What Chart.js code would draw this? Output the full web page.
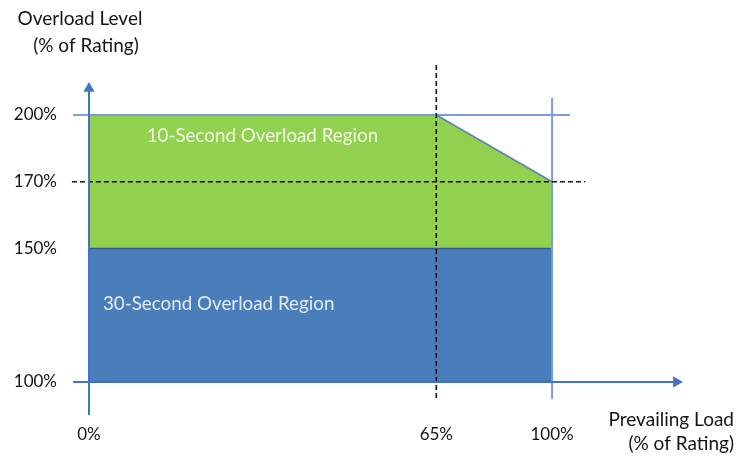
<!DOCTYPE html>
<html>
<head>
<meta charset="utf-8">
<script src="https://cdn.jsdelivr.net/npm/chart.js@4/dist/chart.umd.min.js"></script>
<style>
  html, body { margin: 0; padding: 0; background: #ffffff; }
  #wrap { position: relative; width: 738px; height: 457px; }
</style>
</head>
<body>
<div id="wrap"><canvas id="c" width="738" height="457"></canvas></div>
<script>
// ---------- data ----------
const xTickValues = [0, 65, 100];            // Prevailing load (% of rating)
const yTickValues = [100, 150, 170, 200];    // Overload level (% of rating)

// 30-second region (closed polygon)
const region30X = [0, 100, 100, 0, 0];
const region30Y = [100, 100, 150, 150, 100];
// 10-second region (closed polygon)
const region10X = [0, 0, 65, 100, 100, 0];
const region10Y = [150, 200, 200, 170, 150, 150];
// sloped edge of the 10-second region
const slopeX = [65, 100];
const slopeY = [200, 170];

// reference lines
const limit200X = [-3.0, 105.4];  const limit200Y = [200, 200];
const limit100X = [100, 100];     const limit100Y = [93.6, 207.7];
const dash65X = [65, 65];         const dash65Y = [94, 222.4];
const dash170X = [-3.2, 110];     const dash170Y = [170, 170];

// axes (with arrow heads)
const yAxisX = [0, 0];            const yAxisY = [87.6, 211.9];
const xAxisX = [-3.0, 137.6];     const xAxisY = [100, 100];

const regionLabels = ['10-Second Overload Region', '30-Second Overload Region'];
const yTitle = ['Overload Level', '(% of Rating)'];
const xTitle = ['Prevailing Load', '(% of Rating)'];

// ---------- schematic (non-linear) axis spacing ----------
const scaleBreaks = {
  x: { real: [0, 65, 100], disp: [0, 75, 100] },
  y: { real: [100, 150, 170, 200], disp: [100, 150, 175, 200] }
};

function interp(v, from, to) {
  const n = from.length;
  let i = 0;
  if (v <= from[0]) i = 0;
  else if (v >= from[n - 1]) i = n - 2;
  else { while (i < n - 2 && v > from[i + 1]) i++; }
  return to[i] + (v - from[i]) * (to[i + 1] - to[i]) / (from[i + 1] - from[i]);
}

class PiecewiseScale extends Chart.LinearScale {
  _b() { return scaleBreaks[this.id]; }
  _disp(v) { const b = this._b(); return interp(v, b.real, b.disp); }
  _real(d) { const b = this._b(); return interp(d, b.disp, b.real); }
  getPixelForValue(value) {
    if (value === null || value === undefined || isNaN(value)) return NaN;
    const a = this._disp(this.min), z = this._disp(this.max);
    return this.getPixelForDecimal((this._disp(value) - a) / (z - a));
  }
  getValueForPixel(pixel) {
    const a = this._disp(this.min), z = this._disp(this.max);
    return this._real(a + this.getDecimalForPixel(pixel) * (z - a));
  }
}
PiecewiseScale.id = 'piecewise';
PiecewiseScale.defaults = Chart.LinearScale.defaults;
Chart.register(PiecewiseScale);

function pts(xs, ys) { return xs.map((x, i) => ({ x: x, y: ys[i] })); }

const FONT = 'Lato, "Noto Sans", sans-serif';
const TEXT = '#141414';

const lineBase = { showLine: true, pointRadius: 0, tension: 0, fill: false };

const textPlugin = {
  id: 'texts',
  afterDatasetsDraw(chart) {
    const ctx = chart.ctx;
    const xs = chart.scales.x, ys = chart.scales.y;
    ctx.save();
    // region labels
    ctx.font = '18.8px ' + FONT;
    ctx.textBaseline = 'middle';
    ctx.textAlign = 'left';
    ctx.fillStyle = 'rgba(242,250,234,0.96)';
    ctx.fillText(regionLabels[0], xs.getPixelForValue(10.8), ys.getPixelForValue(190.5));
    ctx.fillStyle = 'rgba(232,240,250,0.96)';
    ctx.fillText(regionLabels[1], xs.getPixelForValue(2.6), ys.getPixelForValue(129.2));
    // axis titles
    ctx.fillStyle = TEXT;
    ctx.font = '19px ' + FONT;
    ctx.textBaseline = 'alphabetic';
    ctx.textAlign = 'center';
    ctx.fillText(yTitle[0], 80, 25);
    ctx.fillText(yTitle[1], 86, 52);
    ctx.textAlign = 'right';
    ctx.fillText(xTitle[0], 734, 426);
    ctx.fillText(xTitle[1], 734, 450);
    ctx.restore();
  }
};

new Chart(document.getElementById('c'), {
  type: 'scatter',
  data: {
    datasets: [
      { ...lineBase, label: 'x axis', data: pts(xAxisX, xAxisY), borderColor: '#4472c4', borderWidth: 2,
        pointRadius: [0, 6.5], pointStyle: 'triangle', pointRotation: [0, 90],
        pointBackgroundColor: '#4472c4', pointBorderWidth: 0, order: 1 },
      { ...lineBase, label: 'y axis', data: pts(yAxisX, yAxisY), borderColor: '#4472c4', borderWidth: 2,
        pointRadius: [0, 6.5], pointStyle: 'triangle', pointRotation: 0,
        pointBackgroundColor: '#4472c4', pointBorderWidth: 0, order: 1 },
      { ...lineBase, label: '65%', data: pts(dash65X, dash65Y), borderColor: '#111111', borderWidth: 1.6,
        borderDash: [5, 3], order: 2 },
      { ...lineBase, label: '170%', data: pts(dash170X, dash170Y), borderColor: '#111111', borderWidth: 1.6,
        borderDash: [5, 3], order: 2 },
      { ...lineBase, label: 'slope', data: pts(slopeX, slopeY), borderColor: '#5a86b0', borderWidth: 1.6, order: 3 },
      { ...lineBase, label: '200% limit', data: pts(limit200X, limit200Y), borderColor: '#7c9ed8', borderWidth: 2, order: 3 },
      { ...lineBase, label: '100% load', data: pts(limit100X, limit100Y), borderColor: '#7c9ed8', borderWidth: 2, order: 3 },
      { ...lineBase, label: '30-second', data: pts(region30X, region30Y), borderColor: '#30598f', borderWidth: 1.5,
        backgroundColor: '#4a7ebb', fill: 'shape', order: 4 },
      { ...lineBase, label: '10-second', data: pts(region10X, region10Y), borderColor: 'rgba(0,0,0,0)', borderWidth: 0,
        backgroundColor: '#92d050', fill: 'shape', order: 5 }
    ]
  },
  options: {
    responsive: false,
    animation: false,
    events: [],
    layout: { padding: { top: 60, right: 48, left: 0, bottom: 0 } },
    plugins: { legend: { display: false }, tooltip: { enabled: false }, title: { display: false } },
    scales: {
      x: {
        type: 'piecewise', min: -3.557, max: 141.7, bounds: 'data',
        grid: { display: false, drawTicks: false }, border: { display: false },
        afterBuildTicks: s => { s.ticks = xTickValues.map(v => ({ value: v })); },
        afterFit: s => { s.height = 42; },
        ticks: { autoSkip: false, maxRotation: 0, padding: 9, color: TEXT,
                 font: { family: FONT, size: 17 }, callback: v => v + '%' }
      },
      y: {
        type: 'piecewise', min: 87.64, max: 224.7, bounds: 'data',
        grid: { display: false, drawTicks: false }, border: { display: false },
        afterBuildTicks: s => { s.ticks = yTickValues.map(v => ({ value: v })); },
        afterFit: s => { s.width = 70; },
        ticks: { autoSkip: false, padding: 13, color: TEXT,
                 font: { family: FONT, size: 17 }, callback: v => v + '%' }
      }
    }
  },
  plugins: [textPlugin]
});
</script>
</body>
</html>
